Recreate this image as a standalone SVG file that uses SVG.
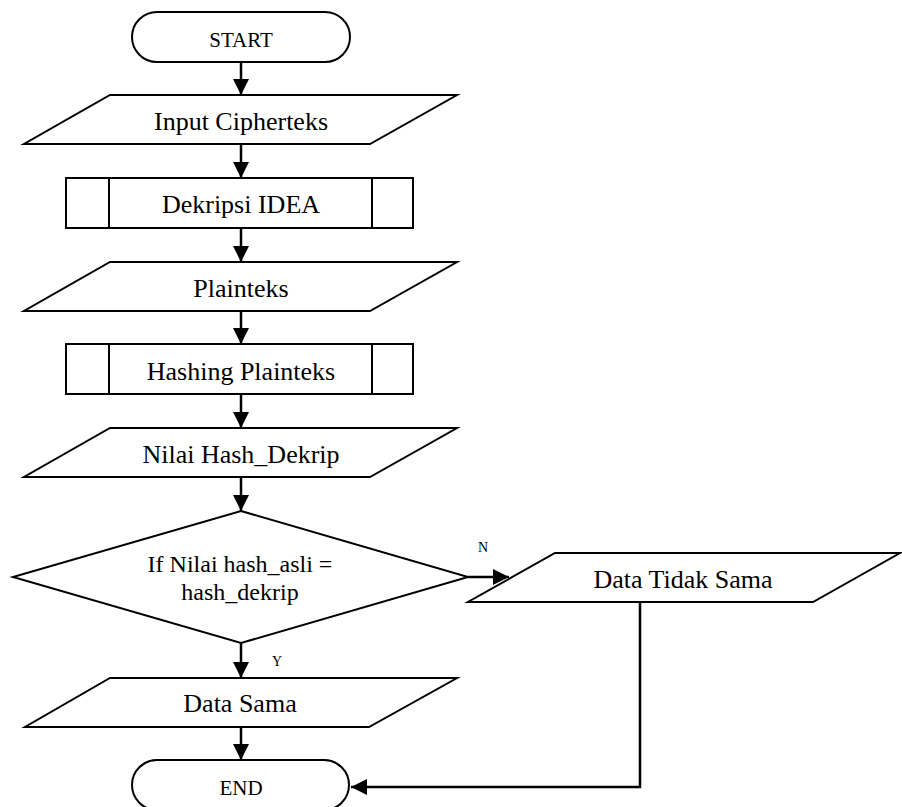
<svg xmlns="http://www.w3.org/2000/svg" width="902" height="807" viewBox="0 0 902 807">
  <style>
    .shape { fill: #ffffff; stroke: #000000; stroke-width: 2; stroke-linejoin: miter; }
    .conn { fill: none; stroke: #000000; stroke-width: 2.5; }
    .label { font-family: "Liberation Serif", "Times New Roman", serif; fill: #000000; text-anchor: middle; }
    .big { font-size: 26px; }
    .mid { font-size: 24px; }
    .term { font-size: 21px; }
    .small { font-size: 14px; }
  </style>
  <defs>
    <marker id="arrow" viewBox="0 0 16 16" refX="16" refY="8" markerWidth="16" markerHeight="16" markerUnits="userSpaceOnUse" orient="auto">
      <path d="M0,0 L16,8 L0,16 Z" fill="#000000"/>
    </marker>
  </defs>
  <rect width="902" height="807" fill="#ffffff"/>

  <!-- connectors -->
  <g id="connectors">
    <line class="conn" x1="241" y1="62" x2="241" y2="95" marker-end="url(#arrow)"/>
    <line class="conn" x1="241" y1="144" x2="241" y2="178" marker-end="url(#arrow)"/>
    <line class="conn" x1="241" y1="228" x2="241" y2="262" marker-end="url(#arrow)"/>
    <line class="conn" x1="241" y1="311" x2="241" y2="344" marker-end="url(#arrow)"/>
    <line class="conn" x1="241" y1="394" x2="241" y2="428" marker-end="url(#arrow)"/>
    <line class="conn" x1="241" y1="477" x2="241" y2="511" marker-end="url(#arrow)"/>
    <line class="conn" x1="241" y1="643" x2="241" y2="678" marker-end="url(#arrow)"/>
    <line class="conn" x1="241" y1="727" x2="241" y2="760" marker-end="url(#arrow)"/>
    <line class="conn" x1="468" y1="577" x2="509" y2="577" marker-end="url(#arrow)"/>
    <polyline class="conn" points="640,602 640,787 351,787" marker-end="url(#arrow)"/>
    <text class="label small" x="277" y="666">Y</text>
    <text class="label small" x="483" y="552">N</text>
  </g>

  <g id="start">
    <rect class="shape" x="132" y="12" width="218" height="50" rx="25" ry="25"/>
    <text class="label term" x="241" y="47">START</text>
  </g>

  <g id="input-cipherteks">
    <polygon class="shape" points="110,95 457,95 370,144 24,144"/>
    <text class="label big" x="241" y="130">Input Cipherteks</text>
  </g>

  <g id="dekripsi-idea">
    <rect class="shape" x="66" y="178" width="347" height="50"/>
    <line class="shape" x1="109" y1="178" x2="109" y2="228"/>
    <line class="shape" x1="372" y1="178" x2="372" y2="228"/>
    <text class="label big" x="241" y="213">Dekripsi IDEA</text>
  </g>

  <g id="plainteks">
    <polygon class="shape" points="110,262 457,262 370,311 24,311"/>
    <text class="label big" x="241" y="297">Plainteks</text>
  </g>

  <g id="hashing-plainteks">
    <rect class="shape" x="66" y="344" width="347" height="50"/>
    <line class="shape" x1="109" y1="344" x2="109" y2="394"/>
    <line class="shape" x1="372" y1="344" x2="372" y2="394"/>
    <text class="label big" x="241" y="380">Hashing Plainteks</text>
  </g>

  <g id="nilai-hash-dekrip">
    <polygon class="shape" points="110,428 457,428 370,477 24,477"/>
    <text class="label big" x="241" y="463">Nilai Hash_Dekrip</text>
  </g>

  <g id="decision">
    <polygon class="shape" points="241,511 468,577 241,643 13,577"/>
    <text class="label mid" x="240" y="572">If Nilai hash_asli =</text>
    <text class="label mid" x="240" y="600">hash_dekrip</text>
  </g>

  <g id="data-tidak-sama">
    <polygon class="shape" points="555,553 900,553 813,602 468,602"/>
    <text class="label big" x="683" y="588">Data Tidak Sama</text>
  </g>

  <g id="data-sama">
    <polygon class="shape" points="110,678 457,678 369,727 25,727"/>
    <text class="label big" x="240" y="712">Data Sama</text>
  </g>

  <g id="end">
    <rect class="shape" x="132" y="760" width="217" height="50" rx="25" ry="25"/>
    <text class="label term" x="241" y="795">END</text>
  </g>
</svg>
